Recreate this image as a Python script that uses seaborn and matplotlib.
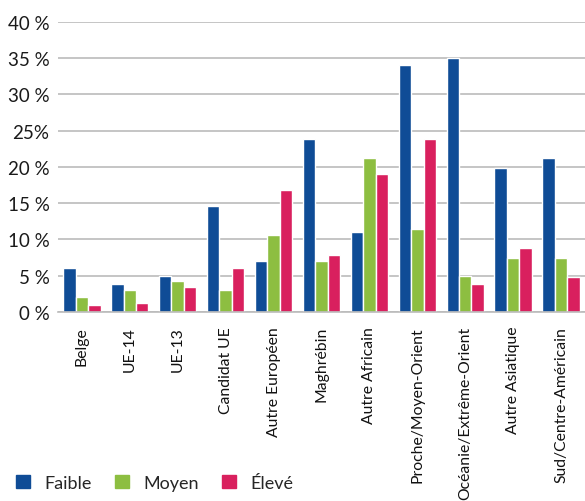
import pandas as pd
import numpy as np
import matplotlib
matplotlib.use("Agg")
import matplotlib.pyplot as plt
import seaborn as sns
from matplotlib.patches import Patch

categories = ["Belge", "UE-14", "UE-13", "Candidat UE", "Autre Européen", "Maghrébin",
              "Autre Africain", "Proche/Moyen-Orient", "Océanie/Extrême-Orient",
              "Autre Asiatique", "Sud/Centre-Américain"]
faible = [6.1, 3.9, 4.9, 14.6, 7.0, 23.9, 11.0, 34.1, 35.0, 19.9, 21.2]
moyen = [2.1, 3.0, 4.3, 3.0, 10.6, 7.0, 21.2, 11.4, 4.9, 7.4, 7.4]
eleve = [0.9, 1.2, 3.4, 6.1, 16.8, 7.9, 19.0, 23.9, 3.9, 8.8, 4.8]
levels = ["Faible", "Moyen", "Élevé"]
yticklabels = ["0 %", "5 %", "10 %", "15 %", "20 %", "25%", "30 %", "35 %", "40 %"]
colors = ["#0F4C96", "#8DBE41", "#D9205E"]

df = pd.DataFrame({
    "cat": categories * 3,
    "val": faible + moyen + eleve,
    "niveau": [l for l in levels for _ in categories],
})

sns.set_style("white")
plt.rcParams["font.family"] = ["Lato", "DejaVu Sans"]

fig = plt.figure(figsize=(5.85, 5.02), dpi=100)
ax = fig.add_axes([0.099, 0.3765, 0.901, 0.578])

sns.barplot(data=df, x="cat", y="val", hue="niveau", hue_order=levels,
            palette=colors, saturation=1, width=0.78, gap=0, ax=ax, legend=False)

ax.set_ylim(0, 40)
ax.set_xlim(-0.5, len(categories) - 0.5)
ax.set_yticks(range(0, 41, 5))
ax.set_yticklabels(yticklabels, fontsize=13.5, color="#1a1a1a")
ax.yaxis.grid(True, color="#BBBBBB", linewidth=1.2)
ax.set_axisbelow(True)
ax.tick_params(axis="y", length=0, pad=6)

ax.set_xticks(range(len(categories)))
ax.set_xticklabels(categories, rotation=90, fontsize=11.3, color="#111111")
ax.set_xticks(np.arange(-0.5, len(categories), 1), minor=True)
ax.tick_params(axis="x", which="major", length=0, pad=10)
ax.tick_params(axis="x", which="minor", length=12, color="#BBBBBB", width=1.2)
ax.set_xlabel("")
ax.set_ylabel("")
for s in ["top", "right", "left"]:
    ax.spines[s].set_visible(False)
ax.spines["bottom"].set_color("#BBBBBB")
ax.spines["bottom"].set_linewidth(1.2)

handles = [Patch(color=c) for c in colors]
fig.legend(handles, levels, loc="lower left", bbox_to_anchor=(0.0, -0.012), ncol=3,
           frameon=False, fontsize=13, handlelength=0.75, handleheight=0.75,
           columnspacing=1.3, handletextpad=0.8)

fig.savefig("out.png", dpi=100)
